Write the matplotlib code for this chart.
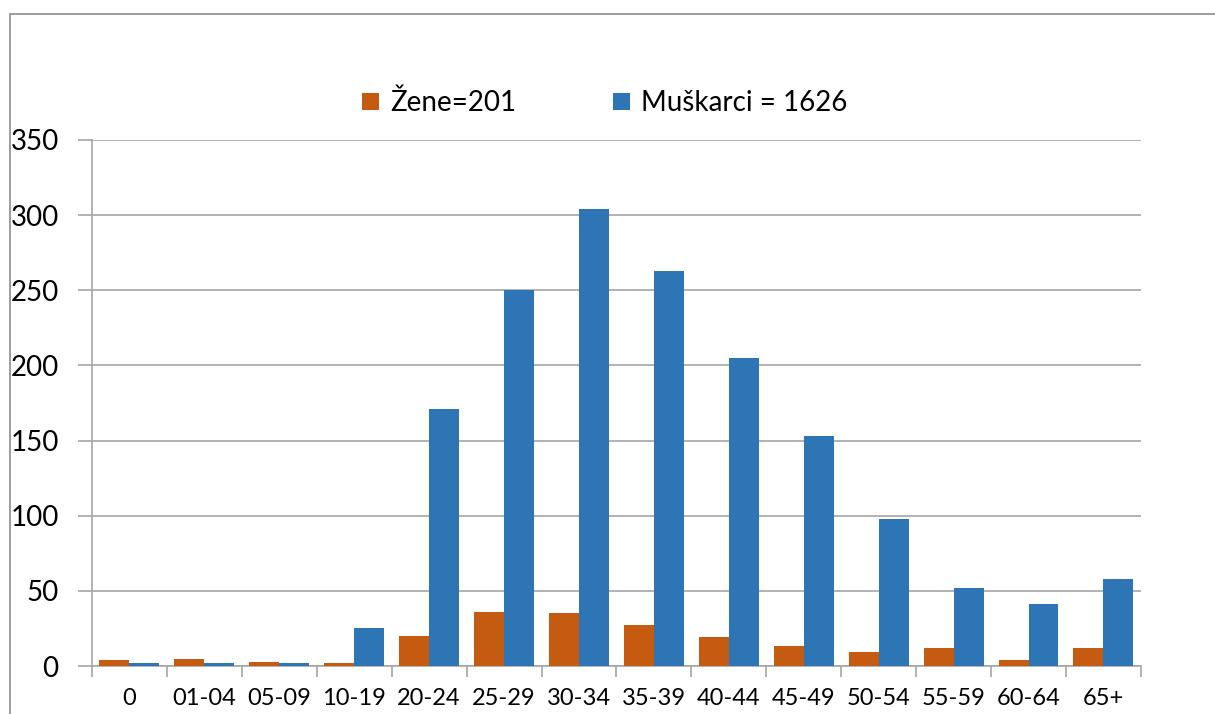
import matplotlib.pyplot as plt
import matplotlib.patches as patches
import numpy as np

# age groups and counts
categories = ['0', '01-04', '05-09', '10-19', '20-24', '25-29', '30-34',
              '35-39', '40-44', '45-49', '50-54', '55-59', '60-64', '65+']
zene = [4, 5, 3, 2, 20, 36, 35, 27, 19, 13, 9, 12, 4, 12]
muskarci = [2, 2, 2, 25, 171, 250, 304, 263, 205, 153, 98, 52, 41, 58]
yticks = [0, 50, 100, 150, 200, 250, 300, 350]

orange = '#C55A11'
blue = '#2E75B6'
grid_col = '#A6A6A6'

plt.rcParams['font.family'] = ['Lato', 'DejaVu Sans']

fig = plt.figure(figsize=(12.15, 7.14), dpi=100)
ax = fig.add_axes([0.0757, 0.0672, 0.8633, 0.7368])

# outer chart frame
fig.patches.append(patches.Rectangle((0.008, -0.05), 1.1, 1.03, transform=fig.transFigure,
                                     fill=False, edgecolor='#8C8C8C', linewidth=1.2))

x = np.arange(len(categories))
w = 0.4
ax.bar(x - w / 2, zene, width=w, color=orange, label='Žene=201', zorder=3)
ax.bar(x + w / 2, muskarci, width=w, color=blue, label='Muškarci = 1626', zorder=3)

ax.set_xlim(-0.5, len(categories) - 0.5)
ax.set_ylim(0, 350)
ax.set_yticks(yticks)
ax.yaxis.grid(True, color=grid_col, linewidth=1.2, zorder=0)

# x ticks at category boundaries, labels at centres
ax.set_xticks(np.arange(len(categories) + 1) - 0.5)
ax.set_xticklabels([])
ax.set_xticks(x, minor=True)
ax.set_xticklabels(categories, minor=True, fontsize=17)
ax.tick_params(axis='x', which='major', length=8, color=grid_col, width=1.2)
ax.tick_params(axis='x', which='minor', length=0, pad=16)
ax.tick_params(axis='y', length=10, color=grid_col, width=1.2, labelsize=20, pad=14)

for s in ['top', 'right']:
    ax.spines[s].set_visible(False)
for s in ['left', 'bottom']:
    ax.spines[s].set_color(grid_col)
    ax.spines[s].set_linewidth(1.2)

ax.legend(loc='center', bbox_to_anchor=(0.489, 1.07), ncol=2, frameon=False,
          fontsize=20, handlelength=0.6, handleheight=0.6, handletextpad=0.4,
          columnspacing=3.5)

fig.savefig('out.png', dpi=100)
